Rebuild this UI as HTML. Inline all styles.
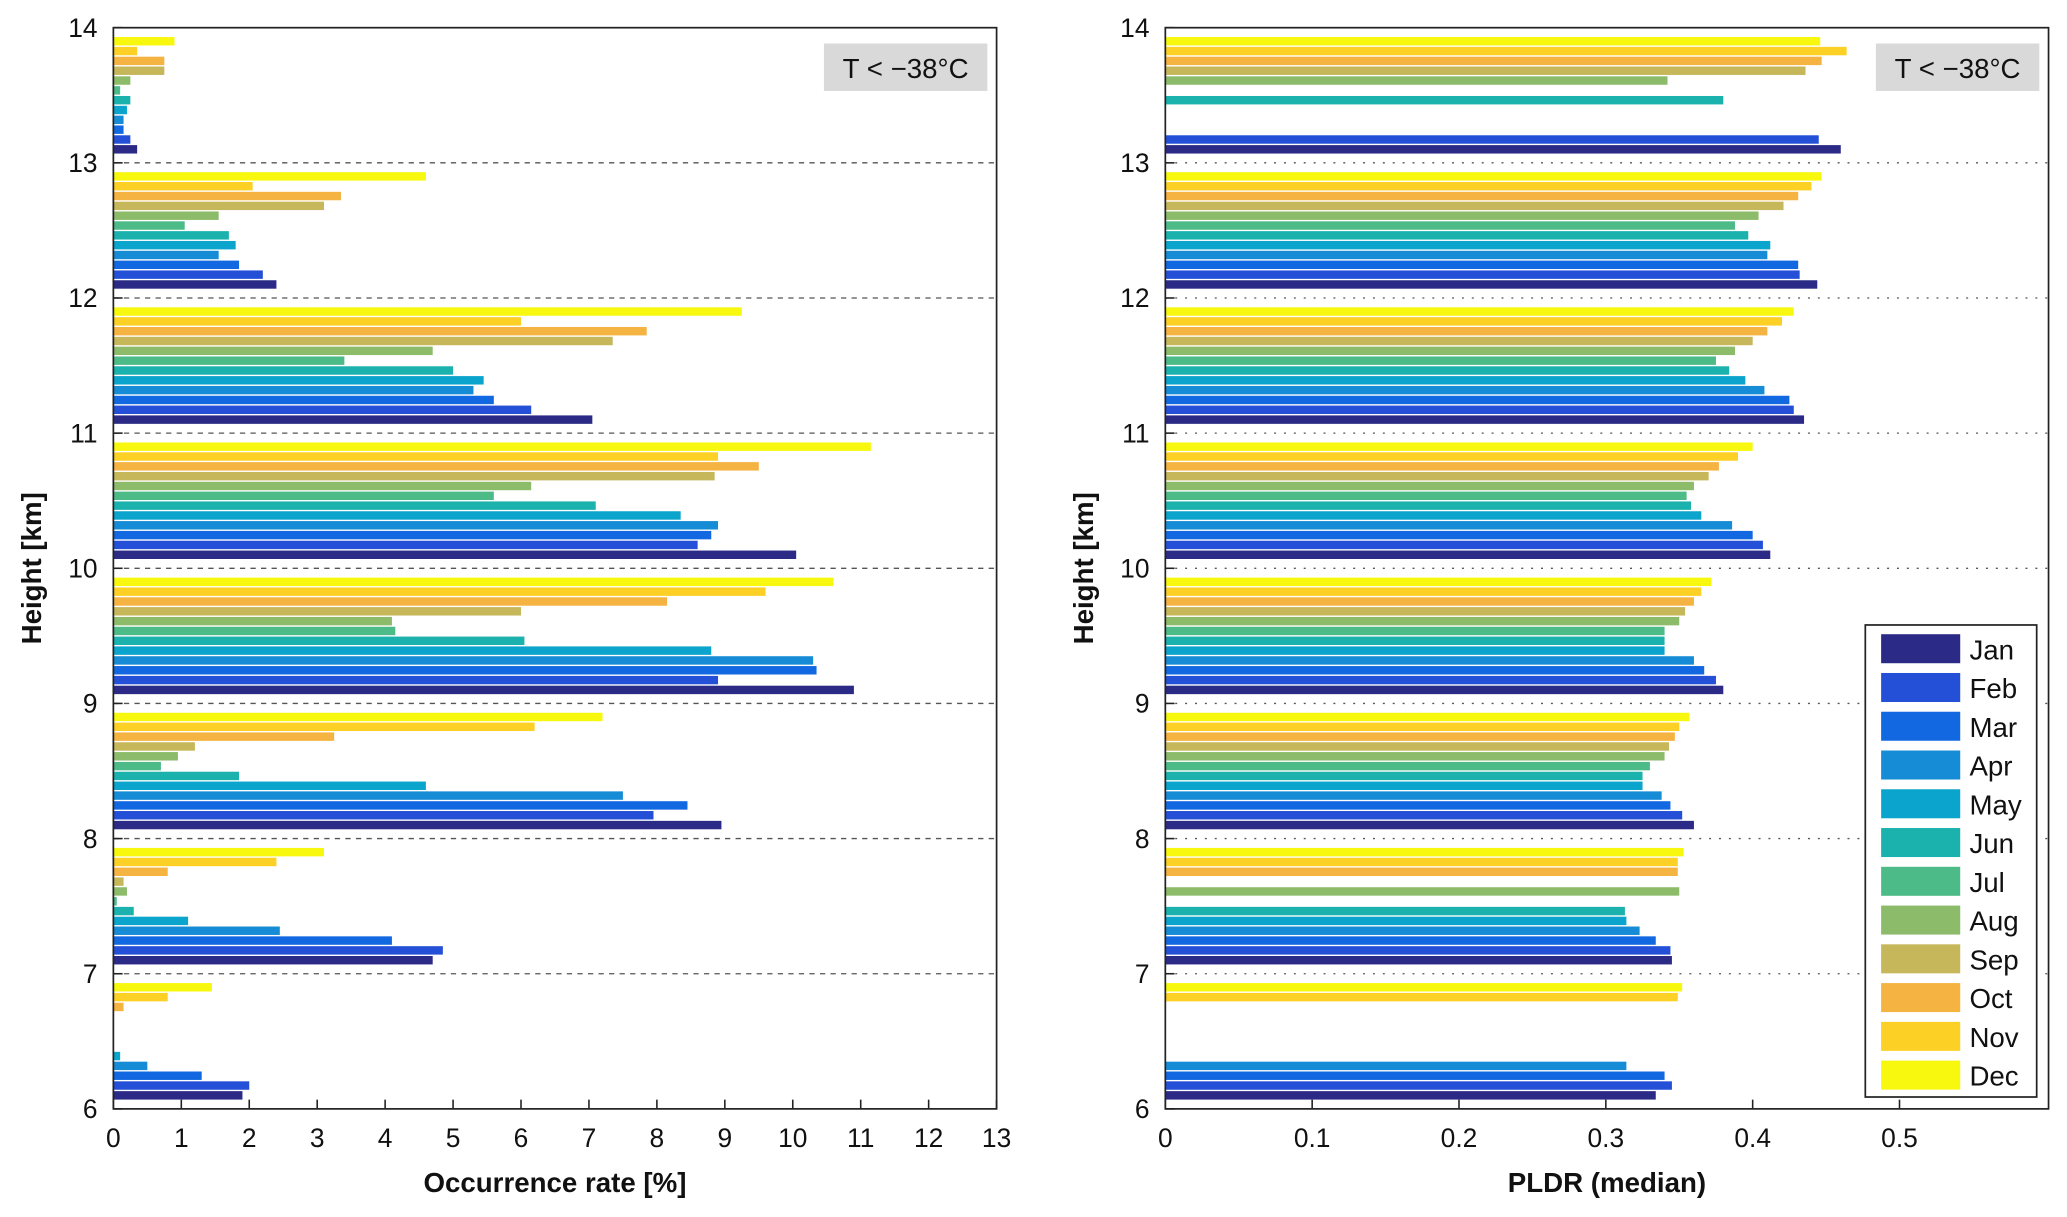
<!DOCTYPE html>
<html><head><meta charset="utf-8"><style>
html,body{margin:0;padding:0;background:#fff;}
svg{display:block;font-family:"Liberation Sans",Arial,sans-serif;}
</style></head><body>
<svg id="fig" width="2067" height="1217" viewBox="0 0 1568 923" preserveAspectRatio="none" xmlns="http://www.w3.org/2000/svg"></svg>
<script>
const months=["Jan","Feb","Mar","Apr","May","Jun","Jul","Aug","Sep","Oct","Nov","Dec"];
const colors=["#2b2a86","#2450d8","#1168e0","#168bd6","#0aa4cc","#1bb2ae","#4dbb88","#8cbb6a","#c6b75a","#f5b341","#fcd025","#f8f80f"];
const bins=[6,7,8,9,10,11,12,13];
const occ6=[1.9,2.0,1.3,0.5,0.1,null,null,null,null,0.15,0.8,1.45];
const occ7=[4.7,4.85,4.1,2.45,1.1,0.3,0.05,0.2,0.15,0.8,2.4,3.1];
const occ8=[8.95,7.95,8.45,7.5,4.6,1.85,0.7,0.95,1.2,3.25,6.2,7.2];
const occ9=[10.9,8.9,10.35,10.3,8.8,6.05,4.15,4.1,6.0,8.15,9.6,10.6];
const occ10=[10.05,8.6,8.8,8.9,8.35,7.1,5.6,6.15,8.85,9.5,8.9,11.15];
const occ11=[7.05,6.15,5.6,5.3,5.45,5.0,3.4,4.7,7.35,7.85,6.0,9.25];
const occ12=[2.4,2.2,1.85,1.55,1.8,1.7,1.05,1.55,3.1,3.35,2.05,4.6];
const occ13=[0.35,0.25,0.15,0.15,0.2,0.25,0.1,0.25,0.75,0.75,0.35,0.9];
const pl6=[0.334,0.345,0.34,0.314,null,null,null,null,null,null,0.349,0.352];
const pl7=[0.345,0.344,0.334,0.323,0.314,0.313,null,0.35,null,0.349,0.349,0.353];
const pl8=[0.36,0.352,0.344,0.338,0.325,0.325,0.33,0.34,0.343,0.347,0.35,0.357];
const pl9=[0.38,0.375,0.367,0.36,0.34,0.34,0.34,0.35,0.354,0.36,0.365,0.372];
const pl10=[0.412,0.407,0.4,0.386,0.365,0.358,0.355,0.36,0.37,0.377,0.39,0.4];
const pl11=[0.435,0.428,0.425,0.408,0.395,0.384,0.375,0.388,0.4,0.41,0.42,0.428];
const pl12=[0.444,0.432,0.431,0.41,0.412,0.397,0.388,0.404,0.421,0.431,0.44,0.447];
const pl13=[0.46,0.445,null,null,null,0.38,null,0.342,0.436,0.447,0.464,0.446];
const occTicks=[0,1,2,3,4,5,6,7,8,9,10,11,12,13];
const plTicks=[0,0.1,0.2,0.3,0.4,0.5];
const hTicks=[6,7,8,9,10,11,12,13,14];

const svg=document.getElementById('fig');
const NS="http://www.w3.org/2000/svg";
function mk(tag,attrs,parent){const e=document.createElementNS(NS,tag);for(const k in attrs)e.setAttribute(k,attrs[k]);(parent||svg).appendChild(e);return e;}
function panel(name,x0,x1,xmax,data,ticks,fmt,xtitle,grid){
  const g=mk('g',{});
  
  
  const yT=21,yB=841;
  const sx=v=>x0+v/xmax*(x1-x0);
  const sy=h=>yB-(h-6)/8*(yB-yT);
  hTicks.slice(1,-1).forEach(h=>{
    const l=mk('line',{x1:x0,x2:x1,y1:sy(h),y2:sy(h),stroke:'#555','stroke-width':1,'stroke-dasharray':grid},g);
    
    
  });
  data.forEach((arr,bi)=>{
    arr.forEach((v,mi)=>{
      if(v===null||v===undefined)return;
      const hc=bins[bi]+0.1+mi*0.0727;
      const r=mk('rect',{x:sx(0),y:sy(hc)-3.2,width:Math.max(0,sx(v)-sx(0)),height:6.4,fill:colors[mi]},g);
      
      
    });
  });
  const fr=mk('rect',{x:x0,y:yT,width:x1-x0,height:yB-yT,fill:'none',stroke:'#222','stroke-width':1.3},g);
  
  
  ticks.forEach(t=>{
    mk('line',{x1:sx(t),x2:sx(t),y1:yB,y2:yB-7,stroke:'#222','stroke-width':1.2},g);
    const tx=mk('text',{x:sx(t),y:yB+29,'font-size':20,'text-anchor':'middle',fill:'#111'},g);
    tx.textContent=fmt(t);
    
    
  });
  hTicks.forEach(h=>{
    mk('line',{x1:x0,x2:x0+7,y1:sy(h),y2:sy(h),stroke:'#222','stroke-width':1.2},g);
    const tx=mk('text',{x:x0-12,y:sy(h)+7,'font-size':20,'text-anchor':'end',fill:'#111'},g);
    tx.textContent=h;
    
    
  });
  const xt=mk('text',{x:(x0+x1)/2,y:904,'font-size':21,'font-weight':'bold','text-anchor':'middle',fill:'#111'},g);
  xt.textContent=xtitle;
  
  
  const yt=mk('text',{x:0,y:0,'font-size':21,'font-weight':'bold','text-anchor':'middle',fill:'#111',transform:`translate(${x0-55},${(yT+yB)/2}) rotate(-90)`},g);
  yt.textContent='Height [km]';
  
  
  const ab=mk('rect',{x:x1-131,y:33,width:124,height:36,fill:'#d9d9d9'},g);
  
  
  const at=mk('text',{x:x1-69,y:59,'font-size':21,'text-anchor':'middle',fill:'#111'},g);
  at.textContent='T < \u221238\u00b0C';
  
  
}
panel('occurrence-panel',86,756,13,[occ6,occ7,occ8,occ9,occ10,occ11,occ12,occ13],occTicks,t=>String(t),'Occurrence rate [%]','4 4');
panel('pldr-panel',884,1554,0.6015,[pl6,pl7,pl8,pl9,pl10,pl11,pl12,pl13],plTicks,t=>t===0?'0':String(t),'PLDR (median)','1.5 6');

const lg=mk('g',{});


const lb=mk('rect',{x:1415,y:474,width:130,height:358,fill:'#fff',stroke:'#222','stroke-width':1.3},lg);


months.forEach((m,i)=>{
  const y=481+i*29.4;
  const sw=mk('rect',{x:1427,y:y,width:60,height:22,fill:colors[i]},lg);
  
  
  const t=mk('text',{x:1494,y:y+19,'font-size':21,fill:'#111'},lg);
  t.textContent=m;
  
  
});
</script>
</body></html>
